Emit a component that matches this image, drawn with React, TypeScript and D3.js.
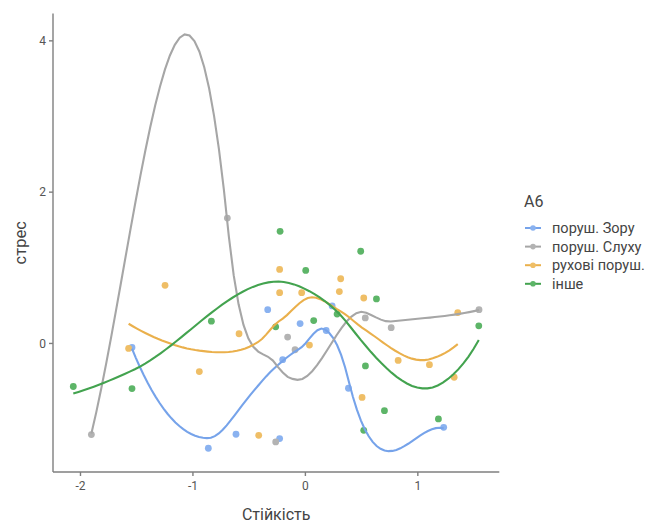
import React, { useEffect, useRef } from 'react';
import * as d3 from 'd3';

const groupNames = ['поруш. Зору', 'поруш. Слуху', 'рухові поруш.', 'інше'];
const lineColors = ['#76a3ea', '#a6a6a6', '#eab04c', '#43a34f'];
const pointColors = ['#8ab2f0', '#b3b3b3', '#efbe66', '#5db568'];

const blueX = [-1.542, -0.863, -0.617, -0.229, -0.335, -0.047, -0.202, 0.185, 0.238, 0.383, 1.23];
const blueY = [-0.053, -1.385, -1.2, -1.257, 0.447, 0.263, -0.214, 0.171, 0.496, -0.592, -1.108];

const grayX = [-1.903, -0.694, -0.158, -0.092, -0.264, 0.5325, 0.763, 1.544];
const grayY = [-1.204, 1.657, 0.084, -0.083, -1.302, 0.338, 0.209, 0.447];

const orangeX = [-1.572, -1.248, -0.943, -0.415, -0.59, -0.229, -0.229, -0.033, 0.036, 0.314, 0.302, 0.519, 0.825, 0.504, 1.103, 1.355, 1.323];
const orangeY = [-0.066, 0.768, -0.372, -1.214, 0.128, 0.978, 0.671, 0.671, -0.021, 0.855, 0.686, 0.601, -0.225, -0.714, -0.28, 0.408, -0.447];

const greenX = [-2.064, -1.542, -0.836, -0.225, 0.003, -0.264, 0.074, 0.282, 0.492, 0.632, 0.534, 0.703, 0.519, 1.183, 1.542];
const greenY = [-0.569, -0.596, 0.295, 1.482, 0.965, 0.22, 0.302, 0.388, 1.219, 0.588, -0.297, -0.889, -1.148, -0.997, 0.233];

const xTicks = [-2, -1, 0, 1];
const yTicks = [0, 2, 4];

const seriesX = [blueX, grayX, orangeX, greenX];
const seriesY = [blueY, grayY, orangeY, greenY];

function solve3(A: number[][], b: number[]): number[] {
  const M = A.map((r, i) => [...r, b[i]]);
  const n = 3;
  for (let c = 0; c < n; c++) {
    let p = c;
    for (let r = c + 1; r < n; r++) if (Math.abs(M[r][c]) > Math.abs(M[p][c])) p = r;
    [M[c], M[p]] = [M[p], M[c]];
    if (Math.abs(M[c][c]) < 1e-12) continue;
    for (let r = 0; r < n; r++) {
      if (r === c) continue;
      const f = M[r][c] / M[c][c];
      for (let k = c; k <= n; k++) M[r][k] -= f * M[c][k];
    }
  }
  return M.map((r, i) => (Math.abs(r[i]) < 1e-12 ? 0 : r[n] / r[i]));
}

// local quadratic fit at x0: returns [value, slope]
function localFit(xs: number[], ys: number[], span: number, x0: number): [number, number] {
  const n = xs.length;
  const q = Math.min(n, Math.floor(n * span + 1e-5));
  const dists = xs.map((x) => Math.abs(x - x0));
  const sorted = [...dists].sort((a, b) => a - b);
  const h = sorted[q - 1] * Math.max(1, span);
  const A = [[0, 0, 0], [0, 0, 0], [0, 0, 0]];
  const b = [0, 0, 0];
  for (let i = 0; i < n; i++) {
    const u = dists[i] / h;
    const w = u < 1 ? Math.pow(1 - u * u * u, 3) : 0;
    if (w <= 0) continue;
    const t = xs[i] - x0;
    const basis = [1, t, t * t];
    for (let r = 0; r < 3; r++) {
      for (let c = 0; c < 3; c++) A[r][c] += w * basis[r] * basis[c];
      b[r] += w * basis[r] * ys[i];
    }
  }
  const beta = solve3(A, b);
  return [beta[0], beta[1]];
}

// loess with kd-tree vertices + cubic Hermite interpolation (1-D)
function loess(xs: number[], ys: number[], span: number, xout: number[]): number[] {
  const n = xs.length;
  const sorted = [...xs].sort((a, b) => a - b);
  const lo = sorted[0], hi = sorted[n - 1];
  const mu = 0.005 * Math.max(hi - lo, 1e-10);
  const nf = Math.min(n, Math.floor(n * span + 1e-5));
  const fc = Math.floor(nf * 0.2);
  const verts: number[] = [lo - mu, hi + mu];
  const rec = (l: number, u: number, vlo: number, vhi: number) => {
    if (u - l + 1 <= fc) return;
    let m = Math.floor((l + u) / 2);
    let offset = 0;
    while (m + offset < u && m + offset >= l) {
      if (sorted[m + offset - 1] === sorted[m + offset]) {
        offset = -offset;
        if (offset >= 0) offset += 1;
      } else {
        m = m + offset;
        break;
      }
    }
    const split = sorted[m - 1];
    if (split === vlo || split === vhi) return;
    verts.push(split);
    rec(l, m, vlo, split);
    rec(m + 1, u, split, vhi);
  };
  rec(1, n, lo - mu, hi + mu);
  verts.sort((a, b) => a - b);
  const vv = verts.map((v) => localFit(xs, ys, span, v));
  return xout.map((x) => {
    let j = 0;
    while (j < verts.length - 2 && x > verts[j + 1]) j++;
    const v0 = verts[j], v1 = verts[j + 1];
    const d = v1 - v0;
    const hh = (x - v0) / d;
    const phi0 = (1 - hh) * (1 - hh) * (1 + 2 * hh);
    const phi1 = hh * hh * (3 - 2 * hh);
    const psi0 = hh * (1 - hh) * (1 - hh);
    const psi1 = -hh * hh * (1 - hh);
    return phi0 * vv[j][0] + phi1 * vv[j + 1][0] + (psi0 * vv[j][1] + psi1 * vv[j + 1][1]) * d;
  });
}

export default function App() {
  const ref = useRef<SVGSVGElement>(null);
  useEffect(() => {
    document.body.style.margin = '0';
    const svg = d3.select(ref.current);
    svg.selectAll('*').remove();
    const font = 'Roboto, "Liberation Sans", Arial, sans-serif';

    const left = 53, right = 499.3, top = 13.6, bottom = 472;

    const curves = seriesX.map((xs, i) => {
      const [lo, hi] = d3.extent(xs) as [number, number];
      const xo = d3.range(80).map((k) => lo + ((hi - lo) * k) / 79);
      const yo = loess(xs, seriesY[i], 0.75, xo);
      return xo.map((x, k) => [x, yo[k]] as [number, number]);
    });

    const allX = seriesX.flat();
    const allY = [...seriesY.flat(), ...curves.flat().map((p) => p[1])];
    const [x0, x1] = d3.extent(allX) as [number, number];
    const [y0, y1] = d3.extent(allY) as [number, number];
    const ex = (x1 - x0) * 0.05, ey = (y1 - y0) * 0.05;

    const x = d3.scaleLinear().domain([x0 - ex, x1 + ex]).range([left, right]);
    const y = d3.scaleLinear().domain([y0 - ey, y1 + ey]).range([bottom, top]);

    const g = svg.append('g');
    const clipId = 'clip-panel';
    svg.append('defs').append('clipPath').attr('id', clipId)
      .append('rect').attr('x', left).attr('y', top).attr('width', right - left).attr('height', bottom - top);

    const plot = g.append('g').attr('clip-path', `url(#${clipId})`);

    seriesX.forEach((xs, i) => {
      plot.append('g').selectAll('circle').data(xs).join('circle')
        .attr('cx', (d) => x(d)).attr('cy', (_d, k) => y(seriesY[i][k]))
        .attr('r', 3.4).attr('fill', pointColors[i]);
    });

    const line = d3.line<[number, number]>().x((d) => x(d[0])).y((d) => y(d[1]));
    curves.forEach((c, i) => {
      plot.append('path').attr('d', line(c)).attr('fill', 'none')
        .attr('stroke', lineColors[i]).attr('stroke-width', 2.1);
    });

    const axisColor = '#7f7f7f';
    g.append('line').attr('x1', left).attr('x2', left).attr('y1', top).attr('y2', bottom)
      .attr('stroke', axisColor).attr('stroke-width', 1.4);
    g.append('line').attr('x1', left).attr('x2', right).attr('y1', bottom).attr('y2', bottom)
      .attr('stroke', axisColor).attr('stroke-width', 1.4);

    xTicks.forEach((t) => {
      g.append('line').attr('x1', x(t)).attr('x2', x(t)).attr('y1', bottom).attr('y2', bottom + 4)
        .attr('stroke', axisColor).attr('stroke-width', 1.4);
      g.append('text').attr('x', x(t)).attr('y', bottom + 18).attr('text-anchor', 'middle')
        .attr('font-family', font).attr('font-size', 12).attr('fill', '#555').text(String(t));
    });
    yTicks.forEach((t) => {
      g.append('line').attr('x1', left - 4).attr('x2', left).attr('y1', y(t)).attr('y2', y(t))
        .attr('stroke', axisColor).attr('stroke-width', 1.4);
      g.append('text').attr('x', left - 7).attr('y', y(t)).attr('dy', '0.35em').attr('text-anchor', 'end')
        .attr('font-family', font).attr('font-size', 12).attr('fill', '#555').text(String(t));
    });

    g.append('text').attr('x', (left + right) / 2).attr('y', 520).attr('text-anchor', 'middle')
      .attr('font-family', font).attr('font-size', 16).attr('fill', '#444').text('Стійкість');
    g.append('text').attr('transform', `translate(26,${(top + bottom) / 2}) rotate(-90)`)
      .attr('text-anchor', 'middle').attr('font-family', font).attr('font-size', 16.5)
      .attr('fill', '#444').text('стрес');

    g.append('text').attr('x', 524).attr('y', 207).attr('font-family', font).attr('font-size', 16)
      .attr('fill', '#444').text('A6');
    groupNames.forEach((name, i) => {
      const cy = 228 + i * 18.6;
      g.append('line').attr('x1', 525).attr('x2', 541).attr('y1', cy).attr('y2', cy)
        .attr('stroke', lineColors[i]).attr('stroke-width', 2);
      g.append('circle').attr('cx', 533).attr('cy', cy).attr('r', 2.8).attr('fill', pointColors[i]);
      g.append('text').attr('x', 552).attr('y', cy).attr('dy', '0.35em').attr('font-family', font)
        .attr('font-size', 14.5).attr('fill', '#444').text(name);
    });
  }, []);
  return <svg ref={ref} width={662} height={524} style={{ display: 'block', background: '#fff' }} />;
}
